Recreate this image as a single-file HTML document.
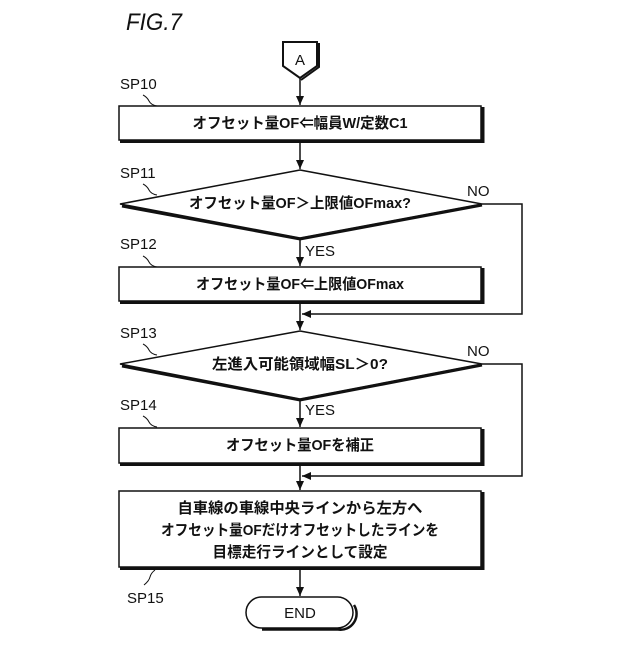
<!DOCTYPE html>
<html><head><meta charset="utf-8"><style>
body{margin:0;background:#fff}
svg text{font-family:"Liberation Sans","Noto Sans CJK JP",sans-serif;fill:#111}
</style></head><body>
<svg width="640" height="640" viewBox="0 0 640 640" xmlns="http://www.w3.org/2000/svg">
<defs><marker id="ar" markerWidth="10" markerHeight="10" refX="9" refY="5" orient="auto" markerUnits="userSpaceOnUse"><path d="M0,1 L9,5 L0,9 Z" fill="#111"/></marker></defs>
<g stroke="#111" fill="none" stroke-width="1.5">
<text x="126" y="30" font-size="24" font-style="italic" stroke="none" textLength="56" lengthAdjust="spacingAndGlyphs">FIG.7</text>
<path d="M283,42 L317,42 L317,66 L300,78 L283,66 Z" stroke-width="2"/>
<path d="M319,43 L319,67 L301,80" stroke-width="2"/>
<line x1="300" y1="78" x2="300" y2="105" marker-end="url(#ar)"/>
<rect x="119" y="106" width="362" height="34"/><path d="M120,141.5 H483 V107" stroke-width="3"/>
<line x1="300" y1="141" x2="300" y2="169" marker-end="url(#ar)"/>
<path d="M300,170 L482,204 L300,238 L120,204 Z"/><path d="M122,206 L300,239 L482,205" stroke-width="3"/>
<line x1="300" y1="239" x2="300" y2="266" marker-end="url(#ar)"/>
<rect x="119" y="267" width="362" height="34"/><path d="M120,302.5 H483 V268" stroke-width="3"/>
<line x1="300" y1="302" x2="300" y2="330" marker-end="url(#ar)"/>
<path d="M482,204 H522 V314 H302" marker-end="url(#ar)"/>
<path d="M300,331 L482,364 L300,399 L120,364 Z"/><path d="M122,366 L300,400 L482,365" stroke-width="3"/>
<line x1="300" y1="400" x2="300" y2="427" marker-end="url(#ar)"/>
<rect x="119" y="428" width="362" height="35"/><path d="M120,464.5 H483 V429" stroke-width="3"/>
<line x1="300" y1="464" x2="300" y2="490" marker-end="url(#ar)"/>
<path d="M482,364 H522 V476 H302" marker-end="url(#ar)"/>
<rect x="119" y="491" width="362" height="76"/><path d="M120,568.5 H483 V492" stroke-width="3"/>
<line x1="300" y1="568" x2="300" y2="596" marker-end="url(#ar)"/>
<rect x="246" y="597" width="107" height="31" rx="15.5"/><path d="M262,629.5 H338 A16,16 0 0 0 354,605" stroke-width="2.5"/>
<path d="M143,95 q4,2 6,6 q2,4 8,5" stroke-width="1"/>
<path d="M143,184 q4,2 6,6 q2,4 8,5" stroke-width="1"/>
<path d="M143,256 q4,2 6,6 q2,4 8,5" stroke-width="1"/>
<path d="M143,344 q4,2 6,6 q2,4 8,5" stroke-width="1"/>
<path d="M143,416 q4,2 6,6 q2,4 8,5" stroke-width="1"/>
<path d="M155,570 q-4,3 -5,7 q-1,4 -6,8" stroke-width="1"/>
</g>
<g font-size="15" stroke="none" font-weight="bold">
<text x="120" y="89" font-weight="normal">SP10</text>
<text x="120" y="178" font-weight="normal">SP11</text>
<text x="120" y="249" font-weight="normal">SP12</text>
<text x="120" y="338" font-weight="normal">SP13</text>
<text x="120" y="410" font-weight="normal">SP14</text>
<text x="127" y="603" font-weight="normal">SP15</text>
<text x="467" y="196" font-weight="normal">NO</text>
<text x="467" y="356" font-weight="normal">NO</text>
<text x="305" y="256" font-weight="normal">YES</text>
<text x="305" y="415" font-weight="normal">YES</text>
<text x="300" y="65" text-anchor="middle" font-weight="normal">A</text>
<text x="300" y="128" text-anchor="middle" textLength="215" lengthAdjust="spacingAndGlyphs">オフセット量OF⇐幅員W/定数C1</text>
<text x="300" y="208" text-anchor="middle" textLength="222" lengthAdjust="spacingAndGlyphs">オフセット量OF＞上限値OFmax?</text>
<text x="300" y="289" text-anchor="middle" textLength="208" lengthAdjust="spacingAndGlyphs">オフセット量OF⇐上限値OFmax</text>
<text x="300" y="369" text-anchor="middle" textLength="176" lengthAdjust="spacingAndGlyphs">左進入可能領域幅SL＞0?</text>
<text x="300" y="450" text-anchor="middle" textLength="148" lengthAdjust="spacingAndGlyphs">オフセット量OFを補正</text>
<text x="300" y="513" text-anchor="middle" textLength="245" lengthAdjust="spacingAndGlyphs">自車線の車線中央ラインから左方へ</text>
<text x="300" y="535" text-anchor="middle" textLength="278" lengthAdjust="spacingAndGlyphs">オフセット量OFだけオフセットしたラインを</text>
<text x="300" y="557" text-anchor="middle" textLength="175" lengthAdjust="spacingAndGlyphs">目標走行ラインとして設定</text>
<text x="300" y="618" text-anchor="middle" font-weight="normal">END</text>
</g>
</svg>
</body></html>
